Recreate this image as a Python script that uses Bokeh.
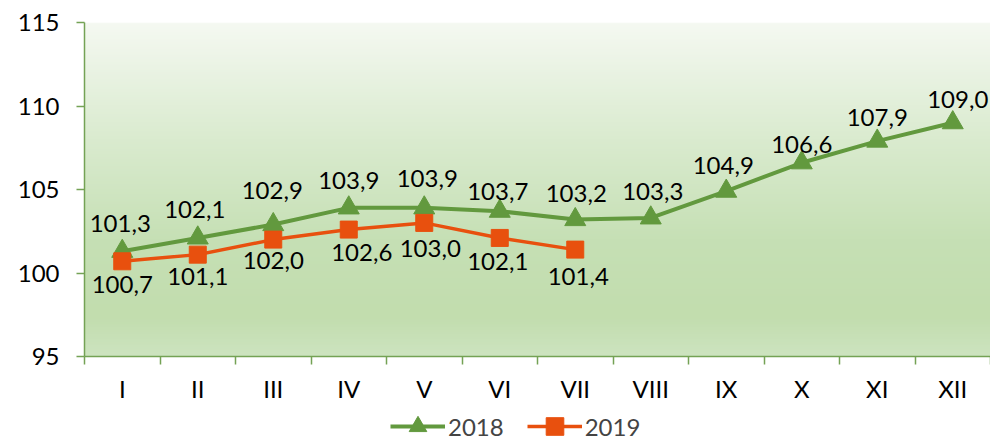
import numpy as np
from bokeh.plotting import figure
from bokeh.layouts import column
from bokeh.models import FixedTicker, Range1d, Legend, LegendItem, ColumnDataSource
from bokeh.core.properties import value
from bokeh.embed import file_html
from bokeh.resources import INLINE

# ---- data ----
months = ["I", "II", "III", "IV", "V", "VI", "VII", "VIII", "IX", "X", "XI", "XII"]
y2018 = [101.3, 102.1, 102.9, 103.9, 103.9, 103.7, 103.2, 103.3, 104.9, 106.6, 107.9, 109.0]
y2019 = [100.7, 101.1, 102.0, 102.6, 103.0, 102.1, 101.4]
y_ticks = [95, 100, 105, 110, 115]

# ---- label placement (screen px) ----
dx18 = [-2, -3, -1, 0, 3, -2, 1, 2, -3, 0, 0, 5]
dy18 = [-28, -28, -34, -27, -29, -20, -26, -26, -26, -18, -24, -23]
dx19 = [0, 0, 0, 13, 6, -2, 3]
dy19 = [23, 22, 21, 23, 26, 24, 27]

GREEN = "#62993e"
ORANGE = "#e8500e"
AXIS = "#74a255"
FONT = "Lato"
FS = "24px"

def fmt(v):
    return f"{v:.1f}".replace(".", ",")

x18 = list(range(1, len(y2018) + 1))
x19 = list(range(1, len(y2019) + 1))

s18 = ColumnDataSource(dict(x=x18, y=y2018, t=[fmt(v) for v in y2018], dx=dx18, dy=dy18))
s19 = ColumnDataSource(dict(x=x19, y=y2019, t=[fmt(v) for v in y2019], dx=dx19, dy=dy19))

p = figure(width=990, height=405, x_range=Range1d(0.5, 12.5), y_range=Range1d(95, 115),
           output_backend="svg", toolbar_location=None,
           min_border_left=84, min_border_right=0, min_border_top=22, min_border_bottom=46)
p.outline_line_color = None
p.xgrid.visible = False
p.ygrid.visible = False
p.background_fill_color = "white"
p.border_fill_color = "white"

# gradient background of the plot area
stops = [(0.0, (0xcd, 0xe4, 0xc0)), (0.12, (0xc2, 0xdd, 0xae)), (0.35, (0xc6, 0xe0, 0xb5)),
         (0.65, (0xda, 0xeb, 0xcf)), (1.0, (0xf5, 0xf9, 0xf2))]
N = 200
img = np.zeros((N, 1), dtype=np.uint32)
view = img.view(dtype=np.uint8).reshape((N, 1, 4))
fr = [s[0] for s in stops]
for c in range(3):
    ch = [s[1][c] for s in stops]
    view[:, 0, c] = np.interp(np.linspace(0, 1, N), fr, ch).astype(np.uint8)
view[:, 0, 3] = 255
p.image_rgba(image=[img], x=0.5, y=95, dw=12, dh=20)

# series
p.line("x", "y", source=s18, line_color=GREEN, line_width=4)
p.scatter("x", "y", source=s18, marker="triangle", size=21, fill_color=GREEN, line_color=GREEN)
p.line("x", "y", source=s19, line_color=ORANGE, line_width=3.5)
p.scatter("x", "y", source=s19, marker="square", size=17, fill_color=ORANGE, line_color=ORANGE)

for s in (s18, s19):
    p.text("x", "y", text="t", source=s, x_offset="dx", y_offset="dy",
           text_align="center", text_baseline="middle",
           text_font=value(FONT), text_font_size=FS, text_color="#000000")

# axes
p.yaxis.ticker = FixedTicker(ticks=y_ticks)
p.yaxis.major_tick_in = 0
p.yaxis.major_tick_out = 8
p.yaxis.minor_tick_line_color = None
p.yaxis.axis_line_color = AXIS
p.yaxis.axis_line_width = 1.5
p.yaxis.major_tick_line_color = AXIS
p.yaxis.major_tick_line_width = 1.5
p.yaxis.major_label_text_font = FONT
p.yaxis.major_label_text_font_size = FS
p.yaxis.major_label_text_color = "#000000"
p.yaxis.major_label_standoff = 17

p.xaxis.ticker = FixedTicker(ticks=x18, minor_ticks=[i + 0.5 for i in range(0, 13)])
p.xaxis.major_label_overrides = {i + 1: m for i, m in enumerate(months)}
p.xaxis.major_tick_line_color = None
p.xaxis.minor_tick_in = 0
p.xaxis.minor_tick_out = 8
p.xaxis.minor_tick_line_color = AXIS
p.xaxis.minor_tick_line_width = 1.5
p.xaxis.axis_line_color = AXIS
p.xaxis.axis_line_width = 1.5
p.xaxis.major_label_text_font = FONT
p.xaxis.major_label_text_font_size = FS
p.xaxis.major_label_text_color = "#000000"
p.xaxis.major_label_standoff = 9

# legend strip below the chart (series drawn off-range, only the legend is seen)
q = figure(width=990, height=35, x_range=Range1d(0.5, 12.5), y_range=Range1d(0, 1),
           output_backend="svg", toolbar_location=None,
           min_border_left=0, min_border_right=0, min_border_top=0, min_border_bottom=0)
q.axis.visible = False
q.grid.visible = False
q.outline_line_color = None
q.background_fill_color = "white"
q.border_fill_color = "white"
k1 = q.line("x", "y", source=s18, line_color=GREEN, line_width=4)
k2 = q.scatter("x", "y", source=s18, marker="triangle", size=21, fill_color=GREEN, line_color=GREEN)
k3 = q.line("x", "y", source=s19, line_color=ORANGE, line_width=3.5)
k4 = q.scatter("x", "y", source=s19, marker="square", size=17, fill_color=ORANGE, line_color=ORANGE)

legend = Legend(items=[LegendItem(label="2018", renderers=[k1, k2]),
                       LegendItem(label="2019", renderers=[k3, k4])],
                orientation="horizontal", location=(306, -8),
                border_line_color=None, background_fill_alpha=0,
                label_text_font=FONT, label_text_font_size=FS,
                glyph_width=55, glyph_height=44, label_standoff=3, spacing=23,
                padding=0, margin=0)
q.add_layout(legend)

layout = column(p, q, spacing=0)
open("out.html", "w").write(file_html(layout, INLINE))
